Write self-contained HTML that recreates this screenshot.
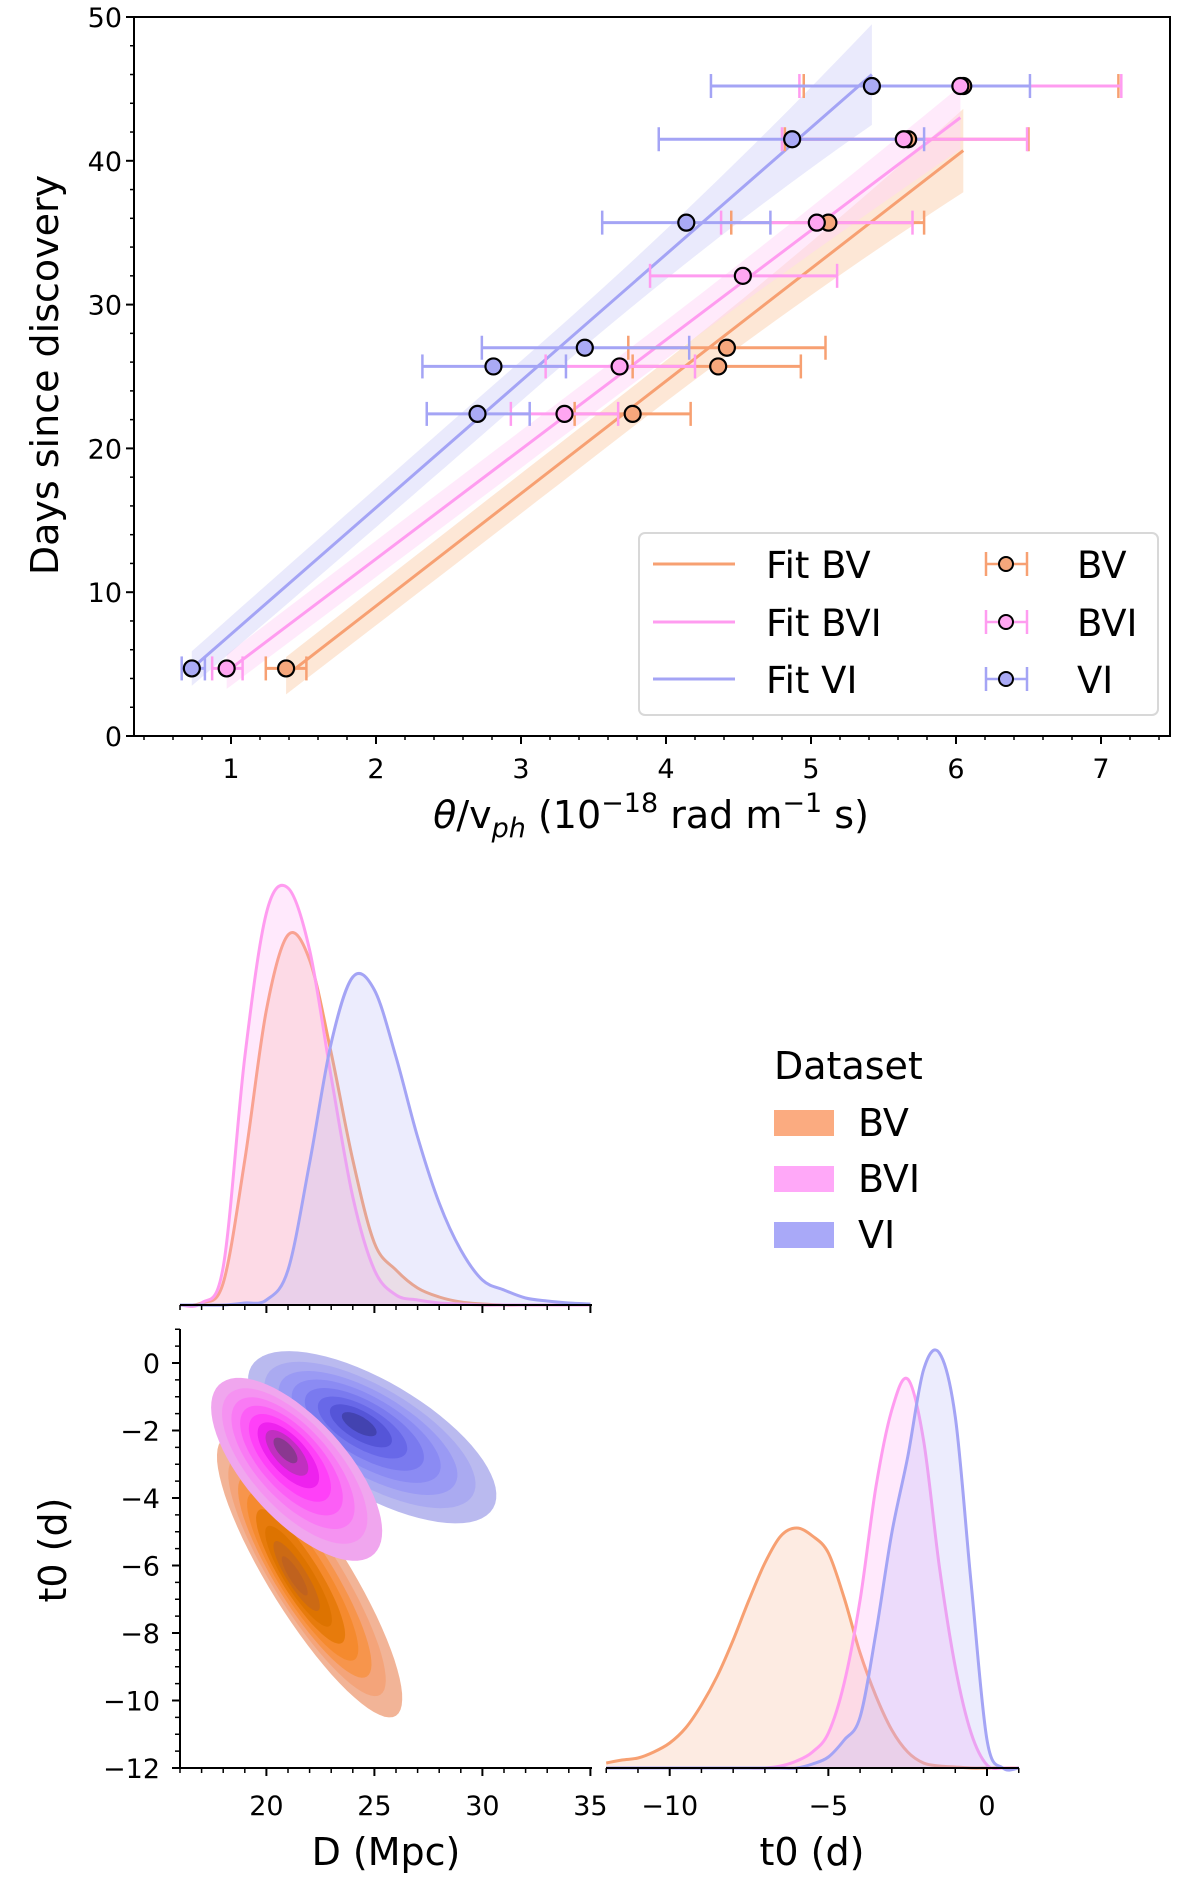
<!DOCTYPE html>
<html><head><meta charset="utf-8"><style>
html,body{margin:0;padding:0;background:#fff}
svg{display:block;font-family:"DejaVu Sans","Liberation Sans",sans-serif}
</style></head><body>
<svg id="fig" width="1200" height="1884" viewBox="0 0 1200 1884" xmlns="http://www.w3.org/2000/svg">
<g id="topplot"></g>
<g id="corner"></g>
</svg>
<script>
// ---------- Top plot data ----------
const seriesNames = ["BV","BVI","VI"];
const bvDays  = [4.7, 22.4, 25.7, 27.0, 35.7, 41.5, 45.2];
const bvX     = [1.38, 3.77, 4.36, 4.42, 5.12, 5.67, 6.05];
const bvLo    = [1.24, 3.37, 3.77, 3.74, 4.45, 4.82, 4.95];
const bvHi    = [1.52, 4.17, 4.93, 5.10, 5.78, 6.50, 7.12];
const bviDays = [4.7, 22.4, 25.7, 32.0, 35.7, 41.5, 45.2];
const bviX    = [0.97, 3.30, 3.68, 4.53, 5.04, 5.64, 6.03];
const bviLo   = [0.87, 2.93, 3.17, 3.89, 4.38, 4.80, 4.92];
const bviHi   = [1.08, 3.67, 4.20, 5.18, 5.70, 6.49, 7.14];
const viDays  = [4.7, 22.4, 25.7, 27.0, 35.7, 41.5, 45.2];
const viX     = [0.73, 2.70, 2.81, 3.44, 4.14, 4.87, 5.42];
const viLo    = [0.66, 2.35, 2.32, 2.73, 3.56, 3.95, 4.31];
const viHi    = [0.82, 3.06, 3.31, 4.16, 4.72, 5.78, 6.51];
const fitSlope = [7.82, 7.614, 8.806];
const fitIntercept = [-6.6, -2.91, -1.73];
const fitXStart = [1.38, 0.97, 0.73];
const fitXEnd = [6.05, 6.03, 5.42];
const bandStart = [1.3, 1.2, 1.2];
const bandMid = [1.4, 1.3, 1.4];
const bandEnd = [2.9, 2.2, 3.5];
const xTicksTop = [1,2,3,4,5,6,7];
const yTicksTop = [0,10,20,30,40,50];

// ---------- Corner plot data ----------
const dGrid = [16,17,18,19,20,21,22,23,24,25,26,27,28,29,30,31,32,33,34,35];
const dBV  = [0,2,22,145,295,370,345,252,145,62,35,17,8,3,1,0,0,0,0,0];
const dBVI = [0,2,38,248,392,417,355,228,108,35,10,5,2,1,0,0,0,0,0,0];
const dVI  = [0,0,0,2,5,35,142,262,328,315,248,168,102,55,25,15,7,4,2,1];
const tGrid = [-12,-11.5,-11,-10.5,-10,-9.5,-9,-8.5,-8,-7.5,-7,-6.5,-6,-5.5,-5,-4.5,-4,-3.5,-3,-2.5,-2,-1.5,-1,-0.5,0,0.5,1];
const tBV  = [5,8,10,16,25,40,63,92,128,168,205,232,240,232,215,170,115,72,38,16,5,2,1,0,0,0,0];
const tBVI = [0,0,0,0,0,0,0,0,0,0,0,2,7,16,35,85,168,281,358,389,328,201,101,35,3,0,0];
const tVI  = [0,0,0,0,0,0,0,0,0,0,0,0,0,4,11,28,51,135,235,311,398,415,351,185,28,0,0];
const kdeCenterD = [22.0, 21.4, 24.9];
const kdeCenterT = [-6.35, -3.15, -2.2];
const kdeModeD = [21.2, 20.8, 24.2];
const kdeModeT = [-6.3, -2.5, -1.75];
const kdeMajorD = [4.0, 3.6, 5.6];
const kdeMajorT = [-4.1, -2.5, -2.1];
const kdeMinorD = [1.55, 1.65, 1.3];
const kdeMinorT = [0.65, 1.05, 1.45];
const kdeLevels = [1, 0.85, 0.72, 0.6, 0.48, 0.36, 0.25, 0.14];
const dTicks = [20,25,30,35];
const tTicksJoint = [0,-2,-4,-6,-8,-10,-12];
const tTicksMarg = [-10,-5,0];

const NS="http://www.w3.org/2000/svg";
function mk(tag, attrs, parent){const e=document.createElementNS(NS,tag);for(const k in attrs)e.setAttribute(k,attrs[k]);parent.appendChild(e);return e;}
function fmt(v){return (v<0?"\u2212":"")+Math.abs(v);}

const lineCol = ["#f7a072","#ff9cf0","#a4a4f5"];
const faceCol = ["#f6a77c","#ffa6f2","#aaaaf5"];
const bandCol = ["#fbcfae","#ffd6f8","#d5d5fa"];
const kdeFill = ["#f9b08c","#ffa8f4","#b4b4f8"];
const contourCols = [
 ["#f2b497","#f4a47a","#f7954c","#f58a2e","#e77b0c","#dd7300","#cc6a14","#c0621e"],
 ["#f0a6ee","#f592f1","#f97af4","#fc5ef6","#ff40f8","#ee22ee","#c030c0","#8a3890"],
 ["#babaef","#aaaaf1","#9a9af4","#8b8bf3","#7a7aef","#6868e8","#5555d8","#4343b0"]];

// ---------- Top plot ----------
const topG=document.getElementById('topplot');
const TL=134,TR=1170,TT=17,TB=736;
const X=v=>86+145*v, Y=v=>736-14.38*v;
for(let s=0;s<3;s++){
  const n=40, up=[], lo=[];
  const xs=fitXStart[s], xe=fitXEnd[s], xm=(xs+xe)/2;
  for(let i=0;i<=n;i++){
    const x=xs+(xe-xs)*i/n, f=(x-xm)/(xe-xm);
    let w = f<0 ? bandMid[s]+(bandStart[s]-bandMid[s])*f*f : bandMid[s]+(bandEnd[s]-bandMid[s])*f*f;
    const y=fitSlope[s]*x+fitIntercept[s];
    up.push(X(x).toFixed(1)+","+Y(Math.min(y+w,50)).toFixed(1));
    lo.unshift(X(x).toFixed(1)+","+Y(y-w).toFixed(1));
  }
  const b=mk('polygon',{points:up.concat(lo).join(' '),fill:bandCol[s],'fill-opacity':0.5},topG);
  
  
}
for(let s=0;s<3;s++){
  const xs=fitXStart[s], xe=fitXEnd[s];
  const l=mk('line',{x1:X(xs),y1:Y(fitSlope[s]*xs+fitIntercept[s]),x2:X(xe),y2:Y(fitSlope[s]*xe+fitIntercept[s]),stroke:lineCol[s],'stroke-width':3},topG);
  
  
}
const allD=[bvDays,bviDays,viDays], allX=[bvX,bviX,viX], allLo=[bvLo,bviLo,viLo], allHi=[bvHi,bviHi,viHi];
for(let s=0;s<3;s++){
  for(let i=0;i<allD[s].length;i++){
    const y=Y(allD[s][i]);
    const g=mk('g',{},topG);
    
    
    mk('line',{x1:X(allLo[s][i]),x2:X(allHi[s][i]),y1:y,y2:y,stroke:lineCol[s],'stroke-width':3},g);
    mk('line',{x1:X(allLo[s][i]),x2:X(allLo[s][i]),y1:y-12,y2:y+12,stroke:lineCol[s],'stroke-width':2.5},g);
    mk('line',{x1:X(allHi[s][i]),x2:X(allHi[s][i]),y1:y-12,y2:y+12,stroke:lineCol[s],'stroke-width':2.5},g);
  }
}
for(let s=0;s<3;s++){
  for(let i=0;i<allD[s].length;i++){
    const c=mk('circle',{cx:X(allX[s][i]),cy:Y(allD[s][i]),r:8,fill:faceCol[s],stroke:'#000','stroke-width':2.2},topG);
    
    
  }
}
const fr=mk('rect',{x:TL,y:TT,width:TR-TL,height:TB-TT,fill:'none',stroke:'#000','stroke-width':2},topG);


for(let k=2;k<=37;k++){ if(k%5===0)continue; const vv=k/5; mk('line',{x1:X(vv),x2:X(vv),y1:TB,y2:TB+4,stroke:'#000','stroke-width':1.5},topG);}
xTicksTop.forEach(v=>{mk('line',{x1:X(v),x2:X(v),y1:TB,y2:TB+8,stroke:'#000','stroke-width':2},topG);
 const t=mk('text',{x:X(v),y:778,'font-size':27,'text-anchor':'middle'},topG);t.textContent=String(v);
 
 });
for(let v=0;v<=50;v+=2){if(v%10===0)continue;mk('line',{x1:TL,x2:TL-4,y1:Y(v),y2:Y(v),stroke:'#000','stroke-width':1.5},topG);}
yTicksTop.forEach(v=>{mk('line',{x1:TL,x2:TL-8,y1:Y(v),y2:Y(v),stroke:'#000','stroke-width':2},topG);
 const t=mk('text',{x:122,y:Y(v)+10,'font-size':27,'text-anchor':'end'},topG);t.textContent=String(v);
 
 });
const lg=mk('g',{},topG);


mk('rect',{x:639,y:533,width:519,height:182,rx:6,fill:'#fff','fill-opacity':0.85,stroke:'#d8d8d8','stroke-width':2},lg);
const rowsY=[564,622,679];
for(let s=0;s<3;s++){
  const y=rowsY[s];
  mk('line',{x1:653,x2:735,y1:y,y2:y,stroke:lineCol[s],'stroke-width':3},lg);
  const t1=mk('text',{x:766,y:y+14,'font-size':37},lg);t1.textContent='Fit '+seriesNames[s];
  
  
  mk('line',{x1:986,x2:1027,y1:y,y2:y,stroke:lineCol[s],'stroke-width':2.5},lg);
  mk('line',{x1:986,x2:986,y1:y-12,y2:y+12,stroke:lineCol[s],'stroke-width':2.5},lg);
  mk('line',{x1:1027,x2:1027,y1:y-12,y2:y+12,stroke:lineCol[s],'stroke-width':2.5},lg);
  mk('circle',{cx:1006,cy:y,r:7,fill:faceCol[s],stroke:'#000','stroke-width':2},lg);
  const t2=mk('text',{x:1077,y:y+14,'font-size':37},lg);t2.textContent=seriesNames[s];
  
  
}
const yt=mk('text',{x:0,y:0,'font-size':38,'text-anchor':'middle',transform:'translate(58,375) rotate(-90)'},topG);
yt.textContent='Days since discovery';


const xt=mk('text',{x:651,y:828,'font-size':38,'text-anchor':'middle'},topG);


[["θ",{'font-style':'italic'}],["/v",{}],["ph",{'font-size':27,'font-style':'italic',dy:9}],[" (10",{dy:-9}],["−18",{'font-size':27,dy:-16}],[" rad m",{dy:16}],["−1",{'font-size':27,dy:-16}],[" s)",{dy:16}]].forEach(p=>{const ts=mk('tspan',p[1],xt);ts.textContent=p[0];});

// ---------- Corner ----------
const cg=document.getElementById('corner');
const DX=v=>266.4+21.6*(v-20);
const TY=v=>1363-33.75*v;
const TX=v=>987+31.73*v;
const MB=1305, RB=1768;
function smoothPath(pts){
  let d="M"+pts[0][0].toFixed(1)+","+pts[0][1].toFixed(1);
  for(let i=0;i<pts.length-1;i++){
    const p0=pts[Math.max(0,i-1)],p1=pts[i],p2=pts[i+1],p3=pts[Math.min(pts.length-1,i+2)];
    const c1=[p1[0]+(p2[0]-p0[0])/6,p1[1]+(p2[1]-p0[1])/6];
    const c2=[p2[0]-(p3[0]-p1[0])/6,p2[1]-(p3[1]-p1[1])/6];
    d+=" C"+c1[0].toFixed(1)+","+c1[1].toFixed(1)+" "+c2[0].toFixed(1)+","+c2[1].toFixed(1)+" "+p2[0].toFixed(1)+","+p2[1].toFixed(1);
  }
  return d;
}
function marginal(grid, vals, xf, base, s, name){
  const pts=grid.map((g,i)=>[xf(g),base-vals[i]]);
  const line=smoothPath(pts);
  const f=mk('path',{d:line+" L"+pts[pts.length-1][0]+","+base+" L"+pts[0][0]+","+base+" Z",fill:kdeFill[s],'fill-opacity':0.25},cg);
  
  
  const l=mk('path',{d:line,fill:'none',stroke:lineCol[s],'stroke-width':3},cg);
  
  
}
[dBV,dBVI,dVI].forEach((a,s)=>marginal(dGrid,a,DX,MB,s,'d-kde-'+seriesNames[s].toLowerCase()));
[tBV,tBVI,tVI].forEach((a,s)=>marginal(tGrid,a,TX,RB,s,'t0-kde-'+seriesNames[s].toLowerCase()));
[0,2,1].forEach(s=>{
  const g=mk('g',{},cg);
  
  
  kdeLevels.forEach((k,li)=>{
    const cd=kdeModeD[s]+k*(kdeCenterD[s]-kdeModeD[s]);
    const ct=kdeModeT[s]+k*(kdeCenterT[s]-kdeModeT[s]);
    const pts=[];
    for(let i=0;i<72;i++){
      const a=i/72*2*Math.PI, c=Math.cos(a), sn=Math.sin(a);
      const dd=cd+k*(c*kdeMajorD[s]+sn*kdeMinorD[s]);
      const tt=ct+k*(c*kdeMajorT[s]+sn*kdeMinorT[s]);
      pts.push(DX(dd).toFixed(1)+","+TY(tt).toFixed(1));
    }
    mk('polygon',{points:pts.join(' '),fill:contourCols[s][li]},g);
  });
});
function ax(x1,y1,x2,y2,name){const l=mk('line',{x1:x1,y1:y1,x2:x2,y2:y2,stroke:'#000','stroke-width':2},cg);}
ax(180,MB,592,MB,'d-marginal-axis');
ax(180,RB,592,RB,'d-axis');
ax(180,1329,180,RB,'t0-axis');
ax(606,RB,1019,RB,'t0-marginal-axis');
for(let v=16;v<=35;v++){const big=dTicks.includes(v);
  mk('line',{x1:DX(v),x2:DX(v),y1:MB,y2:MB+(big?8:5),stroke:'#000','stroke-width':big?2:1.5},cg);
  mk('line',{x1:DX(v),x2:DX(v),y1:RB,y2:RB+(big?8:5),stroke:'#000','stroke-width':big?2:1.5},cg);}
dTicks.forEach(v=>{const t=mk('text',{x:DX(v),y:1815,'font-size':27,'text-anchor':'middle'},cg);t.textContent=String(v);
 
 });
for(let k=-24;k<=2;k++){const v=k/2;const big=tTicksJoint.includes(v);
  mk('line',{x1:180,x2:180-(big?8:5),y1:TY(v),y2:TY(v),stroke:'#000','stroke-width':big?2:1.5},cg);}
tTicksJoint.forEach(v=>{const t=mk('text',{x:160,y:TY(v)+10,'font-size':27,'text-anchor':'end'},cg);t.textContent=fmt(v);
 
 });
for(let v=-12;v<=1;v++){const big=tTicksMarg.includes(v);
  mk('line',{x1:TX(v),x2:TX(v),y1:RB,y2:RB+(big?8:5),stroke:'#000','stroke-width':big?2:1.5},cg);}
tTicksMarg.forEach(v=>{const t=mk('text',{x:TX(v),y:1815,'font-size':27,'text-anchor':'middle'},cg);t.textContent=fmt(v);
 
 });
const l1=mk('text',{x:386,y:1865,'font-size':38,'text-anchor':'middle'},cg);l1.textContent='D (Mpc)';


const l2=mk('text',{x:812,y:1865,'font-size':38,'text-anchor':'middle'},cg);l2.textContent='t0 (d)';


const l3=mk('text',{x:0,y:0,'font-size':38,'text-anchor':'middle',transform:'translate(66,1550) rotate(-90)'},cg);l3.textContent='t0 (d)';


const dl=mk('g',{},cg);


const ttl=mk('text',{x:774,y:1079,'font-size':38},dl);ttl.textContent='Dataset';
const patchCol=["#fbab80","#ffa8f8","#a9a9f8"];
for(let s=0;s<3;s++){
  const y=1110+56*s;
  mk('rect',{x:774,y:y,width:60,height:26,fill:patchCol[s]},dl);
  const t=mk('text',{x:858,y:y+26,'font-size':38},dl);t.textContent=seriesNames[s];
  
  
}
</script>
</body></html>
